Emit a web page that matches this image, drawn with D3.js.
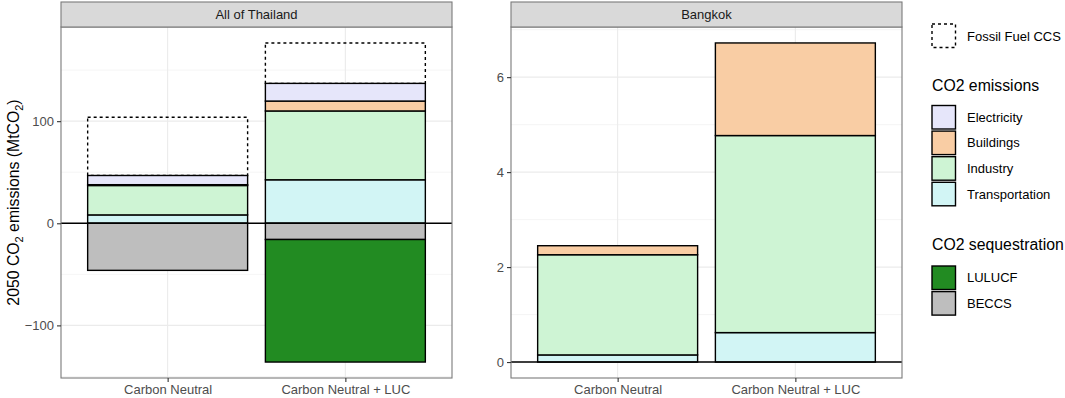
<!DOCTYPE html>
<html>
<head>
<meta charset="utf-8">
<script src="https://cdn.jsdelivr.net/npm/d3@7"></script>
<style>
    body { margin: 0; background: #fff; }
    svg { font-family: "Liberation Sans", Arial, sans-serif; }
</style>
</head>
<body>
<div id="chart"></div>
<script>
// -----------------------------
// data
// -----------------------------

const scenarios = ["Carbon Neutral", "Carbon Neutral + LUC"]
const regions = ["All of Thailand", "Bangkok"]

// positive stack, bottom to top
const emissionSectors = ["Transportation", "Industry", "Buildings", "Electricity"]
// negative stack, nearest zero first
const sequestrationSectors = ["BECCS", "LULUCF"]

// values per scenario (MtCO2)
const thailand = {
    Transportation: [8.2, 42.6],
    Industry: [28.8, 67.4],
    Buildings: [0.8, 9.7],
    Electricity: [9.0, 17.3],
    BECCS: [-46.1, -15.9],
    LULUCF: [0, -120.0]
}
const thailandCCS = [57.0, 39.6]

const bangkok = {
    Transportation: [0.15, 0.62],
    Industry: [2.11, 4.15],
    Buildings: [0.19, 1.95],
    Electricity: [0, 0],
    BECCS: [0, 0],
    LULUCF: [0, 0]
}
const bangkokCCS = [0, 0]

const thailandTicks = [-100, 0, 100]
const thailandMinor = [-150, -50, 50, 150]
const bangkokTicks = [0, 2, 4, 6]
const bangkokMinor = [1, 3, 5, 7]

const colours = {
    Electricity: "#E6E6FA",
    Buildings: "#F9CDA4",
    Industry: "#CEF4D4",
    Transportation: "#D2F5F5",
    LULUCF: "#228B22",
    BECCS: "#BEBEBE"
}

// -----------------------------
// layout
// -----------------------------

const W = 1065
const H = 398
const panelTop = 27
const panelBottom = 378
const stripTop = 2
const fs = 13
const panels = [
    {name: regions[0], x0: 61, x1: 452, values: thailand, ccs: thailandCCS, ticks: thailandTicks, minor: thailandMinor},
    {name: regions[1], x0: 511, x1: 902, values: bangkok, ccs: bangkokCCS, ticks: bangkokTicks, minor: bangkokMinor}
]

const svg = d3.select('#chart')
    .append('svg')
    .attr('width', W)
    .attr('height', H)

// stack the bars: returns [{scenario, sector, y0, y1}]
function stackBars(values, ccs) {
    const out = []
    scenarios.forEach((s, i) => {
        let pos = 0
        emissionSectors.forEach(k => {
            const v = values[k][i]
            out.push({scenario: s, sector: k, y0: pos, y1: pos + v})
            pos += v
        })
        let neg = 0
        sequestrationSectors.forEach(k => {
            const v = values[k][i]
            out.push({scenario: s, sector: k, y0: neg, y1: neg + v})
            neg += v
        })
        out.push({scenario: s, sector: 'CCS', y0: pos, y1: pos + ccs[i]})
    })
    return out
}

panels.forEach(p => {
    const bars = stackBars(p.values, p.ccs)
    const lo = Math.min(0, d3.min(bars, d => Math.min(d.y0, d.y1)))
    const hi = Math.max(0, d3.max(bars, d => Math.max(d.y0, d.y1)))
    const pad = (hi - lo) * 0.05

    const x = d3.scalePoint()
        .domain(scenarios)
        .range([p.x0, p.x1])
        .padding(0.6)
    const bw = x.step() * 0.9

    const y = d3.scaleLinear()
        .domain([lo - pad, hi + pad])
        .range([panelBottom, panelTop])

    const g = svg.append('g')

    // panel background + grid
    g.append('rect')
        .attr('x', p.x0).attr('y', panelTop)
        .attr('width', p.x1 - p.x0).attr('height', panelBottom - panelTop)
        .attr('fill', '#fff')

    g.selectAll('line.minor')
        .data(p.minor.filter(v => y(v) >= panelTop && y(v) <= panelBottom))
        .enter()
        .append('line')
        .attr('x1', p.x0).attr('x2', p.x1)
        .attr('y1', d => y(d)).attr('y2', d => y(d))
        .attr('stroke', '#F2F2F2').attr('stroke-width', 0.8)

    g.selectAll('line.major')
        .data(p.ticks)
        .enter()
        .append('line')
        .attr('x1', p.x0).attr('x2', p.x1)
        .attr('y1', d => y(d)).attr('y2', d => y(d))
        .attr('stroke', '#EBEBEB').attr('stroke-width', 1.1)

    g.selectAll('line.vgrid')
        .data(scenarios)
        .enter()
        .append('line')
        .attr('x1', d => x(d)).attr('x2', d => x(d))
        .attr('y1', panelTop).attr('y2', panelBottom)
        .attr('stroke', '#EBEBEB').attr('stroke-width', 1.1)

    // fossil fuel CCS (dotted outline)
    g.selectAll('rect.ccs')
        .data(bars.filter(d => d.sector === 'CCS' && d.y1 !== d.y0))
        .enter()
        .append('rect')
        .attr('x', d => x(d.scenario) - bw / 2)
        .attr('width', bw)
        .attr('y', d => y(d.y1))
        .attr('height', d => y(d.y0) - y(d.y1))
        .attr('fill', 'none')
        .attr('stroke', '#000')
        .attr('stroke-width', 1.4)
        .attr('stroke-dasharray', '3,3')

    // stacked bars
    g.selectAll('rect.bar')
        .data(bars.filter(d => d.sector !== 'CCS' && d.y1 !== d.y0))
        .enter()
        .append('rect')
        .attr('x', d => x(d.scenario) - bw / 2)
        .attr('width', bw)
        .attr('y', d => y(Math.max(d.y0, d.y1)))
        .attr('height', d => Math.abs(y(d.y0) - y(d.y1)))
        .attr('fill', d => colours[d.sector])
        .attr('stroke', '#000')
        .attr('stroke-width', 1.4)

    // zero line
    g.append('line')
        .attr('x1', p.x0).attr('x2', p.x1)
        .attr('y1', y(0)).attr('y2', y(0))
        .attr('stroke', '#000').attr('stroke-width', 1.4)

    // panel border
    g.append('rect')
        .attr('x', p.x0).attr('y', panelTop)
        .attr('width', p.x1 - p.x0).attr('height', panelBottom - panelTop)
        .attr('fill', 'none')
        .attr('stroke', '#7a7a7a').attr('stroke-width', 1.1)

    // strip
    g.append('rect')
        .attr('x', p.x0).attr('y', stripTop)
        .attr('width', p.x1 - p.x0).attr('height', panelTop - stripTop)
        .attr('fill', '#D9D9D9')
        .attr('stroke', '#7a7a7a').attr('stroke-width', 1.1)
    g.append('text')
        .attr('x', (p.x0 + p.x1) / 2)
        .attr('y', (stripTop + panelTop) / 2)
        .attr('dy', '0.35em')
        .attr('text-anchor', 'middle')
        .attr('font-size', fs)
        .attr('fill', '#1A1A1A')
        .text(p.name)

    // axes
    const yAxis = d3.axisLeft(y)
        .tickValues(p.ticks)
        .tickSize(4)
        .tickPadding(3)
        .tickSizeOuter(0)
    const ya = g.append('g')
        .attr('transform', 'translate(' + p.x0 + ',0)')
        .call(yAxis)
    ya.select('.domain').remove()

    const xAxis = d3.axisBottom(x)
        .tickSize(4)
        .tickPadding(3)
        .tickSizeOuter(0)
    const xa = g.append('g')
        .attr('transform', 'translate(0,' + panelBottom + ')')
        .call(xAxis)
    xa.select('.domain').remove()

    g.selectAll('.tick line').attr('stroke', '#333').attr('stroke-width', 1.1)
    g.selectAll('.tick text')
        .attr('font-size', fs)
        .attr('fill', '#4D4D4D')
        .attr('font-family', '"Liberation Sans", Arial, sans-serif')
})

// y axis title
svg.append('text')
    .attr('transform', 'translate(13,' + (panelTop + panelBottom) / 2 + ') rotate(-90)')
    .attr('dy', '0.35em')
    .attr('text-anchor', 'middle')
    .attr('font-size', 15.8)
    .attr('fill', '#000')
    .html('2050 CO<tspan font-size="11" dy="4">2</tspan><tspan dy="-4"> emissions (MtCO</tspan><tspan font-size="11" dy="4">2</tspan><tspan dy="-4">)</tspan>')

// -----------------------------
// legend
// -----------------------------

const lg = svg.append('g')
const keyX = 932
const keyW = 23.5
const keyH = 23.5
const textX = 967

lg.append('rect')
    .attr('x', keyX).attr('y', 24)
    .attr('width', keyW).attr('height', keyH)
    .attr('fill', 'none')
    .attr('stroke', '#000').attr('stroke-width', 1.4)
    .attr('stroke-dasharray', '3,3')
lg.append('text')
    .attr('x', textX).attr('y', 36).attr('dy', '0.35em')
    .attr('font-size', fs)
    .text('Fossil Fuel CCS')

const legendGroups = [
    {title: 'CO2 emissions', titleY: 85, keysY: 105.5, items: ["Electricity", "Buildings", "Industry", "Transportation"]},
    {title: 'CO2 sequestration', titleY: 244, keysY: 266, items: ["LULUCF", "BECCS"]}
]

legendGroups.forEach(grp => {
    lg.append('text')
        .attr('x', keyX).attr('y', grp.titleY).attr('dy', '0.35em')
        .attr('font-size', 15.8)
        .text(grp.title)

    lg.selectAll(null)
        .data(grp.items)
        .enter()
        .append('rect')
        .attr('x', keyX)
        .attr('y', (d, i) => grp.keysY + i * 25.6)
        .attr('width', keyW).attr('height', keyH)
        .attr('fill', d => colours[d])
        .attr('stroke', '#000').attr('stroke-width', 1.4)

    lg.selectAll(null)
        .data(grp.items)
        .enter()
        .append('text')
        .attr('x', textX)
        .attr('y', (d, i) => grp.keysY + i * 25.6 + keyH / 2)
        .attr('dy', '0.35em')
        .attr('font-size', fs)
        .text(d => d)
})
</script>
</body>
</html>
